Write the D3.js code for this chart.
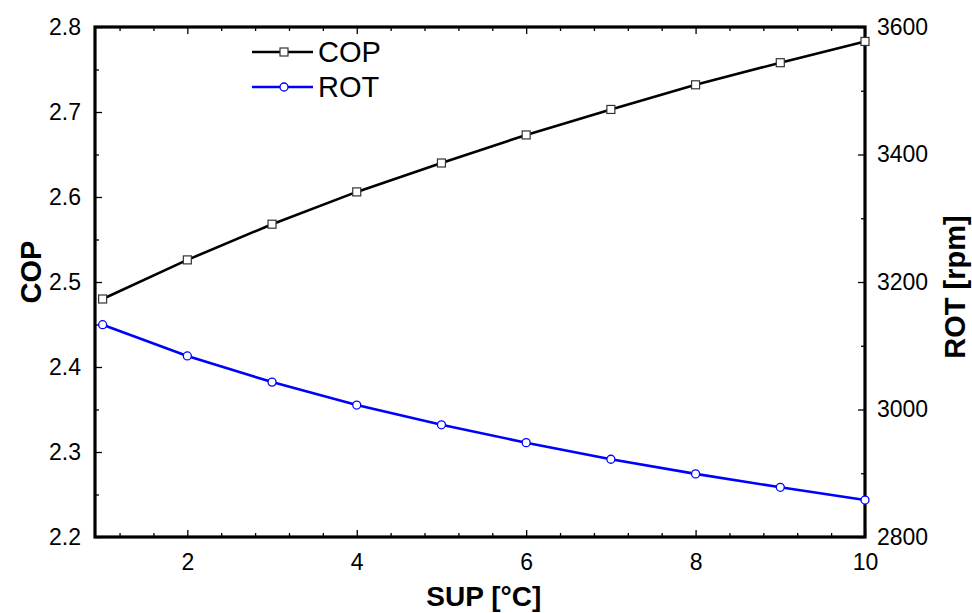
<!DOCTYPE html>
<html>
<head>
<meta charset="utf-8">
<script src="https://cdn.jsdelivr.net/npm/d3@7"></script>
<style>
  html, body { margin: 0; padding: 0; background: #fff; }
  svg { display: block; font-family: "Liberation Sans", Arial, sans-serif; }
</style>
</head>
<body>
<div id="chart"></div>
<script>
// data
const sup = [1, 2, 3, 4, 5, 6, 7, 8, 9, 10];
const cop = [2.480, 2.526, 2.568, 2.606, 2.640, 2.673, 2.703, 2.732, 2.758, 2.783];
const rot = [3133, 3084, 3043, 3007, 2976, 2948, 2922, 2899, 2878, 2858];

const xTicks = [2, 4, 6, 8, 10];
const copTicks = [2.2, 2.3, 2.4, 2.5, 2.6, 2.7, 2.8];
const rotTicks = [2800, 3000, 3200, 3400, 3600];

(function() {
  const width = 972;
  const height = 613;
  const margin = { top: 27, right: 107, bottom: 76, left: 95 };
  const innerW = width - margin.left - margin.right;
  const innerH = height - margin.top - margin.bottom;

  const svg = d3.select("#chart")
    .append("svg")
    .attr("width", width)
    .attr("height", height);

  const g = svg.append("g")
    .attr("transform", `translate(${margin.left},${margin.top})`);

  const x = d3.scaleLinear().domain([0.91, 10]).range([0, innerW]);
  const yL = d3.scaleLinear().domain([2.2, 2.8]).range([innerH, 0]);
  const yR = d3.scaleLinear().domain([2800, 3600]).range([innerH, 0]);

  const xMinor = d3.range(1.2, 10.01, 0.4).filter(v => !xTicks.some(t => Math.abs(t - v) < 1e-6));
  const copMinor = d3.range(2.25, 2.8, 0.1);
  const rotMinor = d3.range(2900, 3600, 200);

  const fs = "23px";

  // axes, ticks pointing inward
  function styleAxis(sel) {
    sel.select(".domain").remove();
    sel.selectAll("line").attr("stroke", "#000").attr("stroke-width", 1.3);
    sel.selectAll("text").attr("font-size", fs).attr("fill", "#000")
      .attr("font-family", "Liberation Sans, Arial, sans-serif");
  }

  // bottom
  g.append("g").attr("transform", `translate(0,${innerH})`)
    .call(d3.axisBottom(x).tickValues(xTicks).tickSize(-7).tickPadding(17).tickFormat(d3.format("d")))
    .call(styleAxis);
  g.append("g").attr("transform", `translate(0,${innerH})`)
    .call(d3.axisBottom(x).tickValues(xMinor).tickSize(-4).tickFormat(""))
    .call(styleAxis);
  // top (mirror)
  g.append("g")
    .call(d3.axisTop(x).tickValues(xTicks).tickSize(-7).tickFormat(""))
    .call(styleAxis);
  g.append("g")
    .call(d3.axisTop(x).tickValues(xMinor).tickSize(-4).tickFormat(""))
    .call(styleAxis);

  // left COP
  g.append("g")
    .call(d3.axisLeft(yL).tickValues(copTicks).tickSize(-7).tickPadding(14).tickFormat(d3.format(".1f")))
    .call(styleAxis);
  g.append("g")
    .call(d3.axisLeft(yL).tickValues(copMinor).tickSize(-4).tickFormat(""))
    .call(styleAxis);

  // right ROT
  g.append("g").attr("transform", `translate(${innerW},0)`)
    .call(d3.axisRight(yR).tickValues(rotTicks).tickSize(-7).tickPadding(12).tickFormat(d3.format("d")))
    .call(styleAxis);
  g.append("g").attr("transform", `translate(${innerW},0)`)
    .call(d3.axisRight(yR).tickValues(rotMinor).tickSize(-4).tickFormat(""))
    .call(styleAxis);

  // frame
  g.append("rect")
    .attr("width", innerW)
    .attr("height", innerH)
    .attr("fill", "none")
    .attr("stroke", "#000")
    .attr("stroke-width", 3.2);

  // lines
  const copLine = d3.line().x((d, i) => x(sup[i])).y(d => yL(d));
  const rotLine = d3.line().x((d, i) => x(sup[i])).y(d => yR(d));

  g.append("path").datum(cop)
    .attr("fill", "none").attr("stroke", "#000").attr("stroke-width", 2.6)
    .attr("d", copLine);
  g.append("path").datum(rot)
    .attr("fill", "none").attr("stroke", "#0000ff").attr("stroke-width", 2.6)
    .attr("d", rotLine);

  // markers
  const sq = 8;
  g.selectAll(".copm").data(cop).join("rect")
    .attr("class", "copm")
    .attr("x", (d, i) => x(sup[i]) - sq / 2)
    .attr("y", d => yL(d) - sq / 2)
    .attr("width", sq).attr("height", sq)
    .attr("fill", "#fff").attr("stroke", "#333").attr("stroke-width", 1.2);

  g.selectAll(".rotm").data(rot).join("circle")
    .attr("class", "rotm")
    .attr("cx", (d, i) => x(sup[i]))
    .attr("cy", d => yR(d))
    .attr("r", 4)
    .attr("fill", "#fff").attr("stroke", "#0000ff").attr("stroke-width", 1.3);

  // legend
  const legend = [
    { name: "COP", color: "#000", y: 52, shape: "square" },
    { name: "ROT", color: "#0000ff", y: 87, shape: "circle" }
  ];
  legend.forEach(l => {
    svg.append("line")
      .attr("x1", 252).attr("x2", 313).attr("y1", l.y).attr("y2", l.y)
      .attr("stroke", l.color).attr("stroke-width", 2.5);
    if (l.shape === "square") {
      svg.append("rect")
        .attr("x", 284 - sq / 2).attr("y", l.y - sq / 2)
        .attr("width", sq).attr("height", sq)
        .attr("fill", "#fff").attr("stroke", "#333").attr("stroke-width", 1.2);
    } else {
      svg.append("circle")
        .attr("cx", 284).attr("cy", l.y).attr("r", 4)
        .attr("fill", "#fff").attr("stroke", "#0000ff").attr("stroke-width", 1.3);
    }
    svg.append("text")
      .attr("x", 318).attr("y", l.y)
      .attr("dy", "0.36em")
      .attr("font-size", "29px")
      .attr("fill", "#000")
      .text(l.name);
  });

  // axis titles
  svg.append("text")
    .attr("x", margin.left + x(5.5))
    .attr("y", 606)
    .attr("text-anchor", "middle")
    .attr("font-size", "28px")
    .attr("font-weight", "bold")
    .text("SUP [°C]");

  svg.append("text")
    .attr("transform", "rotate(-90)")
    .attr("x", -272)
    .attr("y", 41)
    .attr("text-anchor", "middle")
    .attr("font-size", "29px")
    .attr("font-weight", "bold")
    .text("COP");

  svg.append("text")
    .attr("transform", "rotate(-90)")
    .attr("x", -287)
    .attr("y", 965)
    .attr("text-anchor", "middle")
    .attr("font-size", "29px")
    .attr("font-weight", "bold")
    .text("ROT [rpm]");
})();
</script>
</body>
</html>
